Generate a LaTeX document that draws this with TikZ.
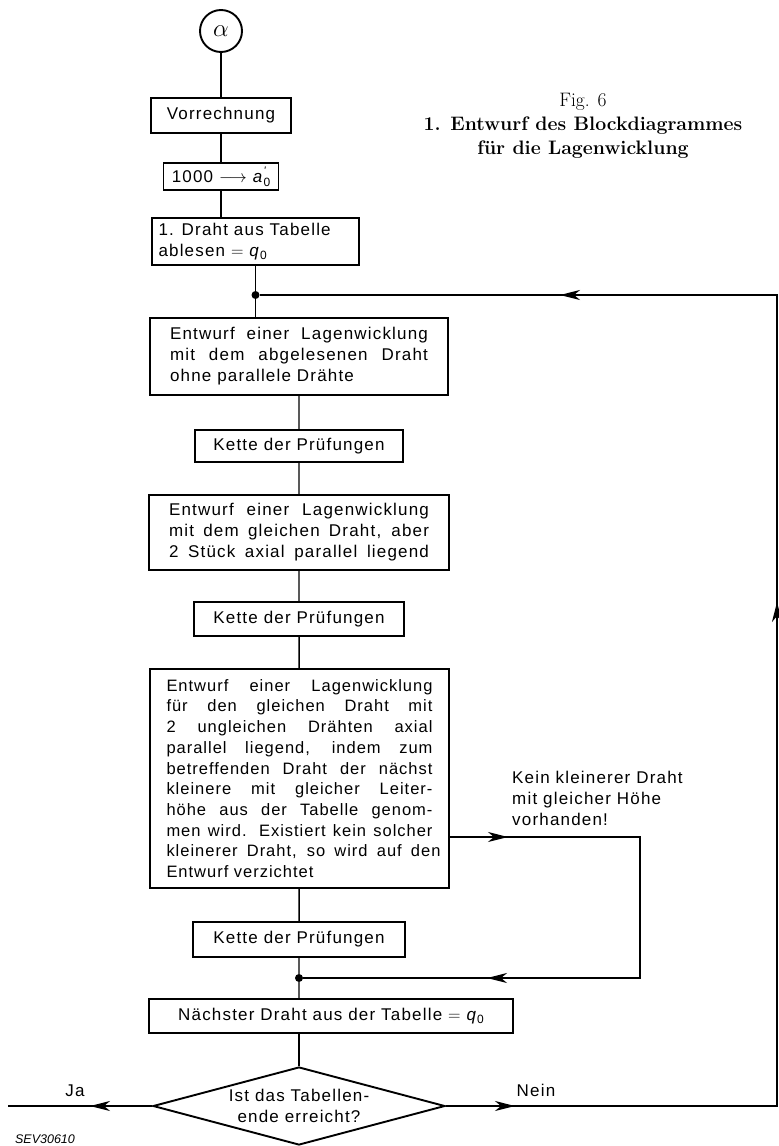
\documentclass[tikz,border=0pt]{standalone}
\usepackage{fontspec}
\usetikzlibrary{arrows.meta,shapes.geometric}
\newfontfamily\bxf[LetterSpace=7]{Liberation Sans}
\newfontfamily\bxs[LetterSpace=6]{Liberation Sans}
\newfontfamily\sevf{Liberation Sans}
\newcommand\js[2]{\makebox[#1][s]{#2}}
\newcommand\qnull{\textit{q}\raisebox{-0.35ex}{\fontsize{12}{12}\selectfont 0}}
\newcommand\aprime{\textit{a}\rlap{\raisebox{0.9ex}{\fontsize{11}{11}\selectfont\textit{'}}}\raisebox{-0.4ex}{\fontsize{12}{12}\selectfont 0}}
\begin{document}
\begin{tikzpicture}[x=1pt,y=-1pt,
  box/.style={draw,line width=1.9pt,inner sep=0pt,font=\bxf\fontsize{17}{21}\selectfont},
  conn/.style={line width=1.4pt},
  arr/.style={line width=1.4pt,-{Stealth[length=20pt,width=10pt,inset=6pt]}},
  jdot/.style={circle,fill,inner sep=0pt,minimum size=8pt},
  lbl/.style={font=\bxf\fontsize{17}{21}\selectfont,inner sep=0pt}]
\useasboundingbox (0,0) rectangle (779,1146);

% title
\node[align=center,inner sep=0pt,font=\fontsize{19.5}{24}\selectfont] (title) at (583,126)
  {Fig. 6\\{\bfseries 1. Entwurf des Blockdiagrammes}\\{\bfseries f\"ur die Lagenwicklung}};

% column
\node[box,circle,minimum size=42pt,font=\fontsize{26}{26}\selectfont] (alpha) at (221,31) {$\alpha$};
\node[box,minimum width=140pt,minimum height=35pt] (vor) at (221,115.5) {Vorrechnung};
\node[box,minimum width=115pt,minimum height=27pt] (a0) at (221,176.5) {1000 $\longrightarrow$ \aprime};
\node[box,minimum width=207pt,minimum height=47pt] (draht) at (255.5,241.5)
  {\parbox{194pt}{1. Draht aus Tabelle\\ablesen $=$ \qnull}};
\node[jdot] (j1) at (255.5,295) {};
\node[box,minimum width=298pt,minimum height=77pt] (ent1) at (299,356.5)
  {\parbox{258pt}{\js{258pt}{Entwurf einer Lagenwicklung}\\\js{258pt}{mit dem abgelesenen Draht}\\ohne parallele Dr\"ahte}};
\node[box,minimum width=208pt,minimum height=32pt] (k1) at (299,446) {Kette der Pr\"ufungen};
\node[box,minimum width=300pt,minimum height=75pt] (ent2) at (299,532.5)
  {\parbox{260pt}{\js{260pt}{Entwurf einer Lagenwicklung}\\\js{260pt}{mit dem gleichen Draht, aber}\\\js{260pt}{2 St\"uck axial parallel liegend}}};
\node[box,minimum width=210pt,minimum height=34pt] (k2) at (299,619) {Kette der Pr\"ufungen};
\node[box,minimum width=299pt,minimum height=219pt] (ent3) at (299.5,778.5)
  {\parbox{266pt}{\bxs\fontsize{16.5}{20.7}\selectfont
   \js{266pt}{Entwurf einer Lagenwicklung}\\
   \js{266pt}{f\"ur den gleichen Draht mit}\\
   \js{266pt}{2 ungleichen Dr\"ahten axial}\\
   \js{266pt}{parallel liegend, indem zum}\\
   \js{266pt}{betreffenden Draht der n\"achst}\\
   \js{266pt}{kleinere mit gleicher Leiter-}\\
   \js{266pt}{h\"ohe aus der Tabelle genom-}\\
   \js{266pt}{men wird. Existiert kein solcher}\\
   \js{274pt}{kleinerer Draht, so wird auf den}\\
   Entwurf verzichtet}};
\node[box,minimum width=212pt,minimum height=35pt] (k3) at (299,939.5) {Kette der Pr\"ufungen};
\node[jdot] (j2) at (299,978) {};
\node[box,minimum width=364pt,minimum height=34pt] (next) at (331,1016) {N\"achster Draht aus der Tabelle $=$ \qnull};
\node[box,diamond,aspect=3.75,minimum width=292pt,minimum height=78pt,align=center] (ende) at (299,1106)
  {Ist das Tabellen-\\ende erreicht?};

% labels
\node[lbl] (ja) at (75,1091) {Ja};
\node[lbl] (nein) at (536,1090) {Nein};
\node[lbl,anchor=west,align=left] (kein) at (512,798) {Kein kleinerer Draht\\mit gleicher H\"ohe\\vorhanden!};
\node[inner sep=0pt,font=\sevf\itshape\fontsize{12.5}{12.5}\selectfont] (sev) at (45,1139) {SEV30610};

% coordinates
\coordinate (rt) at (777,295);
\coordinate (rb) at (777,1106);
\coordinate (up) at (777,602);
\coordinate (fb) at (560,295);
\coordinate (lr1) at (640,837);
\coordinate (lr2) at (640,978);
\coordinate (ra) at (508,837);
\coordinate (la) at (487,978);
\coordinate (jaend) at (8,1106);
\coordinate (jaa) at (90,1106);
\coordinate (neina) at (515,1106);

% connectors
\draw[conn] (alpha) -- (vor) -- (a0);
\draw[conn] (a0.south) -- (a0.south |- draht.north);
\draw[conn] (draht.south) -- (j1) -- (j1 |- ent1.north);
\draw[conn] (ent1) -- (k1) -- (ent2) -- (k2) -- (ent3) -- (k3) -- (j2) -- (j2 |- next.north);
\draw[conn] (ende.north |- next.south) -- (ende.north);
\draw[conn] (ent3.east |- lr1) -- (lr1) -- (lr2) -- (j2);
\draw[arr] (ent3.east |- lr1) -- (ra);
\draw[arr] (lr2) -- (la);
\draw[conn] (ende.east) -- (rb) -- (rt) -- (j1);
\draw[arr] (ende.east) -- (neina);
\draw[arr] (rb) -- (up);
\draw[arr] (rt) -- (fb);
\draw[conn] (ende.west) -- (jaend);
\draw[arr] (ende.west) -- (jaa);
\end{tikzpicture}
\end{document}
